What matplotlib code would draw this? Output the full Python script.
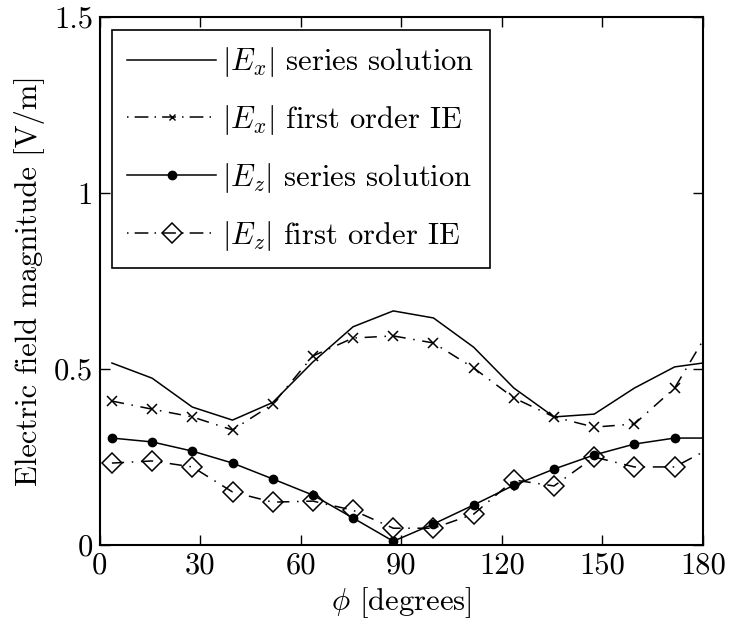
import matplotlib
matplotlib.use("Agg")
import matplotlib.pyplot as plt
import numpy as np

plt.rcParams["font.family"] = "cmr10"
plt.rcParams["mathtext.fontset"] = "cm"
plt.rcParams["axes.formatter.use_mathtext"] = True

# angle samples (degrees)
phi = [3.6, 15.6, 27.6, 39.6, 51.6, 63.6, 75.6, 87.6, 99.6, 111.6,
       123.6, 135.6, 147.6, 159.6, 171.6, 180.0]

ex_series = [0.517, 0.474, 0.392, 0.355, 0.405, 0.520, 0.620, 0.665, 0.645,
             0.562, 0.446, 0.364, 0.372, 0.446, 0.506, 0.517]
ex_ie = [0.409, 0.386, 0.364, 0.327, 0.400, 0.537, 0.588, 0.594, 0.574,
         0.503, 0.418, 0.364, 0.335, 0.344, 0.446, 0.580]
ez_series = [0.304, 0.293, 0.267, 0.233, 0.188, 0.142, 0.077, 0.011, 0.060,
             0.114, 0.170, 0.216, 0.256, 0.287, 0.304, 0.304]
ez_ie = [0.233, 0.239, 0.222, 0.151, 0.122, 0.125, 0.099, 0.048, 0.048,
         0.088, 0.185, 0.168, 0.250, 0.222, 0.222, 0.264]

xticks = [0, 30, 60, 90, 120, 150, 180]
yticks = [0, 0.5, 1, 1.5]
ytick_labels = ["0", "0.5", "1", "1.5"]

dashdot = (0, (8, 5, 1, 5))
# legend handles start on the dot: "· — x — ·"
dashdot_leg = (0, (1, 4, 9, 4))
fs = 22

fig = plt.figure(figsize=(7.29, 6.23), dpi=100)
ax = fig.add_axes([0.137, 0.125, 0.827, 0.848])

ax.plot(phi, ex_series, color="black", lw=1.1, ls="-",
        label=r"$|E_x|$ series solution")
ax.plot(phi[:-1], ex_ie[:-1], color="black", lw=1.1, ls="none",
        marker="x", ms=7, mew=1.1)
ax.plot(phi, ex_ie, color="black", lw=1.1, ls=dashdot)
ax.plot([], [], color="black", lw=1.1, ls=dashdot_leg, marker="x", ms=5,
        mew=1.0, label=r"$|E_x|$ first order IE")
ax.plot(phi, ez_series, color="black", lw=1.1, ls="-", marker="o",
        ms=6, markevery=list(range(len(phi) - 1)),
        label=r"$|E_z|$ series solution")
ax.plot(phi[:-1], ez_ie[:-1], color="black", lw=1.1, ls="none",
        marker="D", ms=10, mfc="none", mew=1.1)
ax.plot(phi, ez_ie, color="black", lw=1.1, ls=dashdot)
ax.plot([], [], color="black", lw=1.1, ls=dashdot_leg, marker="D", ms=10,
        mfc="none", mew=1.1, label=r"$|E_z|$ first order IE")

ax.set_xlim(0, 180)
ax.set_ylim(0, 1.5)
ax.set_xticks(xticks)
ax.set_xticklabels([str(t) for t in xticks])
ax.set_yticks(yticks)
ax.set_yticklabels(ytick_labels)
ax.tick_params(direction="in", length=7, width=1, top=True, right=True,
               labelsize=fs, pad=5)
for sp in ax.spines.values():
    sp.set_linewidth(1.5)

ax.set_xlabel(r"$\phi$ [degrees]", fontsize=fs, labelpad=4)
ax.set_ylabel("Electric field magnitude [V/m]", fontsize=fs, labelpad=6)

leg = ax.legend(loc="upper left", bbox_to_anchor=(0.02, 0.975),
                fontsize=fs, handlelength=2.9, labelspacing=0.78,
                borderaxespad=0, fancybox=False, framealpha=1,
                edgecolor="black", handletextpad=0.2, borderpad=0.5)
leg.get_frame().set_linewidth(1.2)

fig.savefig("out.png", dpi=100)
